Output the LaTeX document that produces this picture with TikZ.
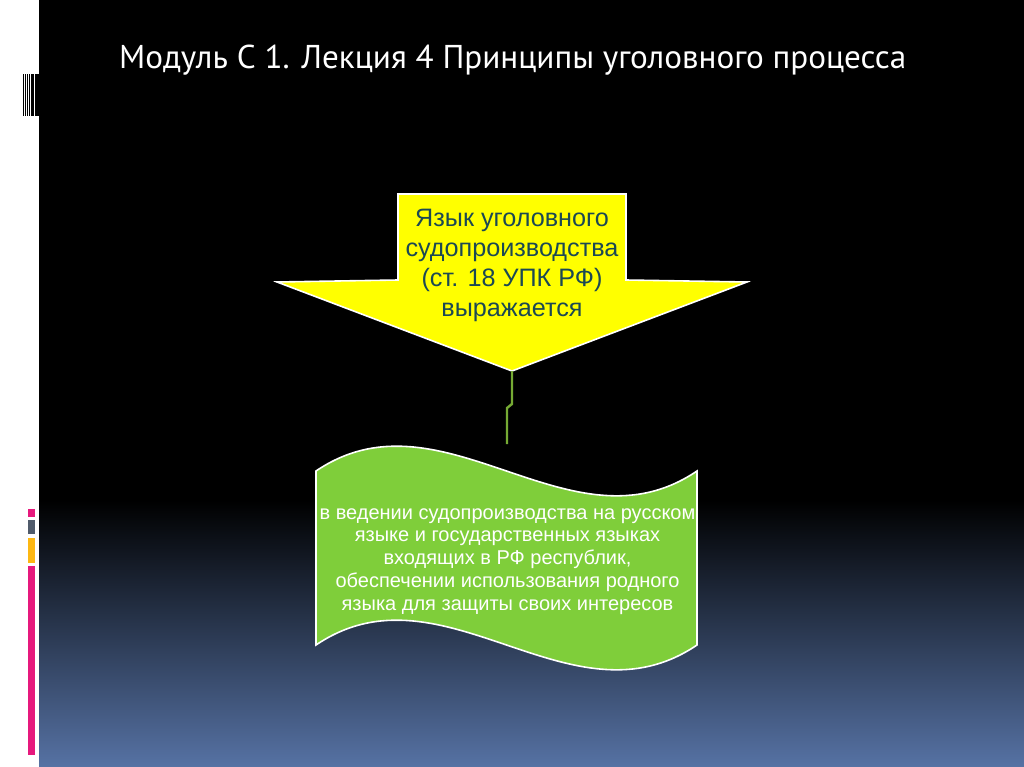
\documentclass[tikz,border=0pt]{standalone}
\usepackage{fontspec}
\usepackage{graphicx}
\setmainfont{Liberation Sans}
\newfontfamily\titlefont{PT Sans}
\definecolor{arrowyellow}{RGB}{255,255,0}
\definecolor{arrowtext}{RGB}{27,72,84}
\definecolor{wavegreen}{RGB}{127,206,58}
\definecolor{linkgreen}{RGB}{118,170,52}
\definecolor{bgblue}{RGB}{86,114,164}
\definecolor{barpink}{RGB}{230,25,125}
\definecolor{bargray}{RGB}{80,91,107}
\definecolor{barorange}{RGB}{253,184,19}
\tikzset{
  shapeline/.style={draw=white, line width=1.6pt, line join=miter},
  bartag/.style={draw=white, line width=0.4pt},
  barcodebar/.style={fill=black},
  linkline/.style={draw=linkgreen, line width=2.4pt},
}
\begin{document}
\begin{tikzpicture}[x=1pt,y=-1pt]
\useasboundingbox (0,0) rectangle (1024,767);
% background
\fill[white] (0,0) rectangle (39,767);
\fill[black] (39,0) rectangle (1024,767);
\shade[top color=black, bottom color=bgblue] (39,500) rectangle (1024,767);
% barcode
\foreach \a/\b in {22.7/23.8, 25/25.9, 26.8/28.2, 29.1/30.2, 31.1/33.8, 34.7/39}
  \fill[barcodebar] (\a,74) rectangle (\b,116);
% coloured tags
\fill[barpink, bartag] (27,508) rectangle (35,517);
\fill[bargray, bartag] (27,519) rectangle (35,534);
\fill[barorange, bartag] (27,537) rectangle (35,563);
\fill[barpink, bartag] (27,565) rectangle (35,755);
% title
\node[anchor=base west, inner sep=0, text=white, font=\titlefont\fontsize{33}{36}\selectfont] (title) at (119,68.5)
  {\resizebox{787pt}{\height}{Модуль С 1. Лекция 4 Принципы уголовного процесса}};
% yellow down arrow
\path[fill=arrowyellow, shapeline] (398,194) -- (626,194) -- (626,280) -- (747,282)
  -- (512,371) -- (277,282) -- (398,280) -- cycle;
\coordinate (tip) at (512,371);
\node[anchor=base, align=center, inner sep=0, text=arrowtext, font=\fontsize{25.2}{30}\selectfont] (arrowtxt) at (512,316)
  {Язык уголовного\\судопроизводства\\(ст. 18 УПК РФ)\\выражается};
% green wave
\path[fill=wavegreen, shapeline] (316,471) .. controls (443,385) and (570,557) .. (697,471)
  -- (697,645) .. controls (570,731) and (443,559) .. (316,645) -- cycle;
\coordinate (wavetop) at (507,444);
\node[anchor=base, align=center, inner sep=0, text=white, font=\fontsize{20}{22.7}\selectfont] (wavetxt) at (507.5,610)
  {в ведении судопроизводства на русском\\языке и государственных языках\\входящих в РФ республик,\\обеспечении использования родного\\языка для защиты своих интересов};
% connector
\draw[linkline] (tip) -- ++(0,33) -- ++(-5,4) -- (wavetop);
\end{tikzpicture}
\end{document}
